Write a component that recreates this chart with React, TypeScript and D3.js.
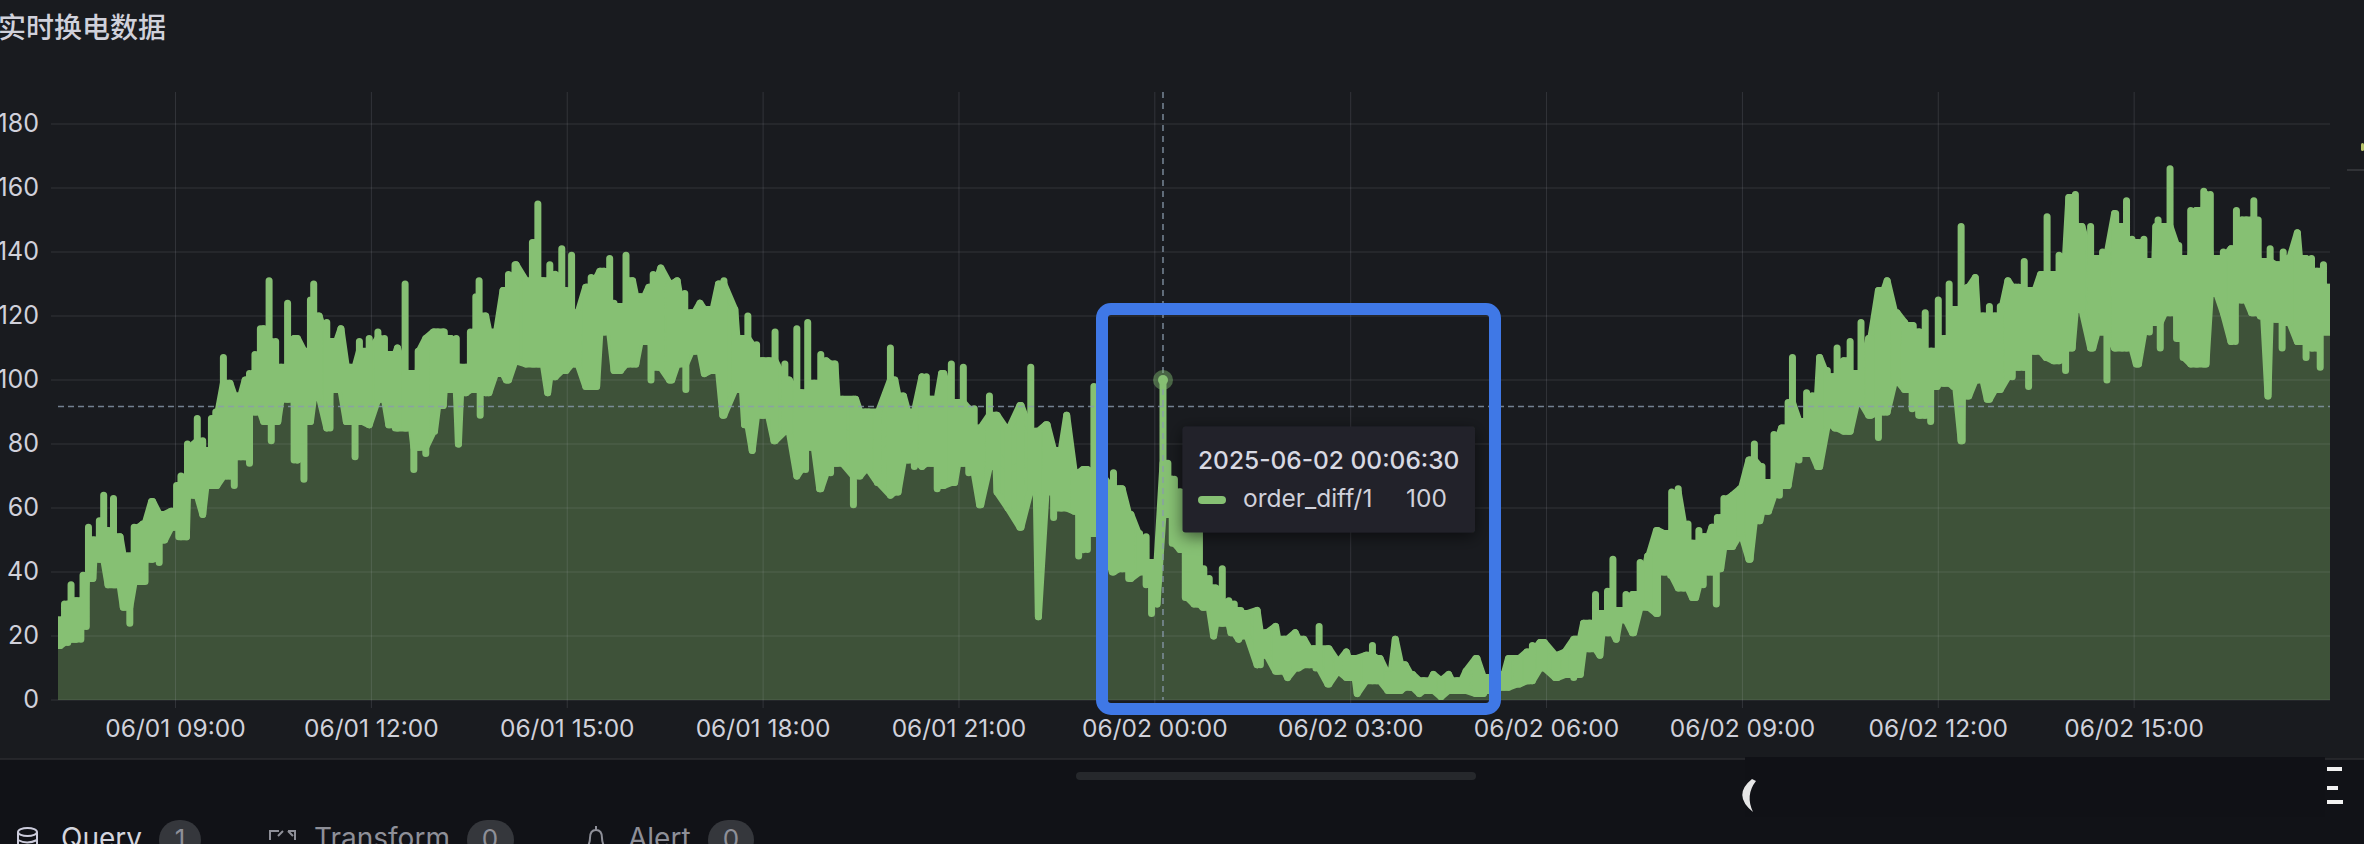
import * as d3 from "d3";

const WIDTH = 2364;
const HEIGHT = 844;
const PLOT = { left: 58, right: 2330, top: 92, bottom: 700 };

const START = new Date(2025, 5, 1, 7, 12);
const END_MINUTE = 2088;
const TITLE = "实时换电数据";
const Y_TICKS = [0, 20, 40, 60, 80, 100, 120, 140, 160, 180];
const THRESHOLD = 91.7;
const HOVER_MINUTE = 1015.5;
const HOVER_VALUE = 100;
const TOOLTIP_TIME = "2025-06-02 00:06:30";
const TOOLTIP_SERIES = "order_diff/1";
const TOOLTIP_VALUE = "100";
const CORE_WINDOW = 6; // minutes either side when working out the solid band

// [minutes after 06/01 07:12, value]: upper and lower tips
const highs1 = [[2,25],[6,30],[12,36],[17,31],[23,39],[28,54],[33,50],[38,56],[42,64],[46,53],[51,63],[57,51],[64,45],[70,54],[78,55],[87,62],[96,58],[104,59],[109,67],[113,70],[119,80],[128,88],[133,81],[136,78],[141,88],[145,90],[152,107],[158,99],[165,95],[172,100],[176,102],[181,108],[186,116],[194,131],[200,112],[205,104],[211,124],[220,113],[227,109],[232,125],[235,130],[240,120],[247,118],[253,112],[260,116],[268,104],[277,112],[280,109],[286,113],[294,115],[300,113],[304,108],[312,110],[319,130],[325,102],[331,109],[338,113],[346,115]];
const lows1 = [[0,17],[2,17],[9,18],[15,19],[21,19],[26,23],[32,38],[39,44],[46,36],[53,36],[60,29],[66,24],[74,37],[80,37],[86,44],[93,43],[98,50],[106,54],[111,51],[118,51],[125,64],[133,58],[140,67],[146,67],[155,70],[162,67],[168,76],[176,74],[182,90],[189,87],[196,81],[202,87],[211,94],[217,75],[226,69],[230,87],[240,95],[250,85],[256,97],[265,87],[273,76],[279,87],[286,86],[296,94],[305,86],[310,85],[320,85],[327,72],[332,79],[338,77],[345,84]];
const highs2 = [[349,115],[355,115],[361,113],[366,113],[370,104],[375,104],[379,115],[384,126],[387,131],[393,120],[402,115],[409,128],[414,133],[420,136],[430,131],[436,143],[441,155],[446,131],[452,136],[457,133],[463,141],[467,128],[472,139],[478,121],[485,129],[490,132],[498,134],[507,138],[511,124],[517,123],[522,139],[528,131],[535,126],[543,129],[547,133],[554,135],[562,130],[569,131],[576,127],[582,121],[590,124],[600,122],[607,130],[612,131],[622,122],[629,113],[634,120],[642,111],[648,106],[653,106],[659,115],[668,105],[672,100],[679,116],[683,96],[689,118],[695,99]];
const lows2 = [[354,92],[361,97],[368,80],[375,96],[382,97],[388,89],[396,96],[403,102],[412,100],[421,106],[430,105],[438,105],[443,105],[450,96],[457,101],[464,103],[475,105],[486,98],[495,98],[502,115],[516,103],[524,105],[531,105],[539,112],[545,100],[552,104],[564,100],[571,105],[577,97],[585,109],[594,102],[602,103],[611,89],[624,97],[631,86],[638,78],[647,89],[658,81],[671,84],[679,70],[687,72],[692,79]];
const highs3 = [[701,108],[706,106],[714,105],[721,94],[733,94],[742,90],[754,90],[765,110],[769,100],[777,95],[787,90],[798,101],[804,94],[812,102],[821,105],[827,93],[832,104],[842,91],[848,85],[856,95],[862,89],[873,84],[884,92],[894,104],[899,84],[908,86],[917,78],[927,89],[934,71],[942,72],[952,98],[957,70],[970,71],[975,66],[986,58],[994,52],[1000,51],[1006,43],[HOVER_MINUTE,HOVER_VALUE],[1020,74],[1026,69],[1032,65],[1038,62],[1047,58]];
const lows3 = [[700,66],[710,71],[716,74],[731,61],[737,70],[745,72],[753,68],[765,64],[772,65],[781,75],[787,73],[794,73],[802,74],[808,66],[814,67],[824,68],[831,74],[837,71],[847,61],[856,73],[863,65],[873,60],[885,54],[894,66],[901,26],[909,65],[915,57],[922,60],[934,59],[938,45],[946,47],[951,52],[960,50],[969,40],[978,41],[984,38],[994,40],[1000,36],[1005,27],[1010,30],[1018,58],[1024,49],[1031,47],[1036,32],[1044,30]];
const highs4 = [[1049,55],[1053,41],[1058,38],[1064,35],[1070,41],[1076,31],[1081,30],[1087,28],[1093,27],[1102,28],[1110,21],[1119,23],[1127,19],[1137,21],[1145,19],[1154,16],[1159,23],[1168,16],[1177,12],[1184,15],[1192,13],[1202,14],[1208,17],[1215,13],[1222,8],[1229,19],[1238,11],[1245,8],[1255,6],[1264,8],[1271,6],[1278,8],[1286,6],[1294,9],[1304,13],[1312,7],[1320,7],[1326,8],[1333,13],[1343,13],[1350,15],[1355,17],[1366,18],[1376,14],[1385,15],[1395,19]];
const lows4 = [[1052,29],[1062,20],[1070,24],[1078,21],[1085,19],[1092,20],[1105,11],[1111,14],[1121,9],[1130,7],[1140,10],[1150,11],[1156,10],[1167,5],[1176,9],[1186,7],[1194,2],[1203,6],[1212,6],[1225,3],[1234,3],[1243,4],[1251,2],[1261,3],[1271,1],[1281,3],[1290,3],[1303,2],[1310,2],[1318,3],[1329,4],[1341,5],[1352,6],[1362,10],[1378,7],[1385,8],[1393,7]];
const highs5 = [[1402,24],[1408,24],[1413,33],[1419,27],[1424,34],[1429,44],[1435,28],[1441,33],[1448,33],[1454,43],[1462,45],[1469,53],[1477,52],[1483,65],[1489,66],[1498,55],[1502,49],[1508,53],[1513,51],[1520,54],[1525,57],[1531,63],[1539,64],[1547,66],[1555,75],[1559,80],[1566,73],[1571,68],[1577,83],[1584,85],[1590,93],[1594,107],[1601,87],[1607,96],[1612,95],[1619,107],[1626,103],[1630,101],[1635,110],[1641,106],[1647,112],[1653,102],[1657,118],[1666,113],[1674,128],[1681,131],[1688,121],[1697,118],[1705,117],[1711,115],[1716,121],[1722,109],[1728,125],[1733,113],[1738,130],[1744,122]];
const lows5 = [[1399,8],[1407,16],[1417,14],[1425,21],[1432,19],[1440,25],[1447,21],[1461,29],[1470,27],[1476,40],[1482,39],[1494,35],[1505,32],[1512,36],[1517,40],[1524,30],[1528,41],[1535,48],[1546,52],[1554,44],[1564,56],[1572,59],[1582,64],[1587,67],[1600,75],[1606,77],[1617,73],[1626,86],[1633,85],[1645,84],[1655,93],[1664,89],[1673,82],[1678,90],[1690,100],[1699,97],[1704,91],[1710,89],[1721,87],[1727,98],[1734,99],[1742,98]];
const highs6 = [[1749,148],[1755,129],[1762,132],[1769,120],[1775,123],[1780,120],[1785,123],[1792,131],[1799,129],[1807,137],[1813,128],[1822,133],[1828,151],[1834,133],[1839,139],[1848,157],[1854,158],[1860,148],[1868,148],[1874,138],[1879,140],[1883,139],[1891,152],[1897,148],[1901,156],[1906,144],[1912,143],[1917,144],[1921,137],[1928,148],[1930,150],[1936,148],[1941,166],[1949,142],[1954,138],[1960,153],[1966,153],[1972,159],[1978,158],[1984,138],[1990,140],[1997,141],[2002,153],[2011,150],[2018,156],[2022,150],[2027,137],[2033,141],[2040,136],[2045,140],[2050,138],[2058,146],[2065,138],[2071,138],[2076,134],[2082,136],[2086,129]];
const lows6 = [[1750,81],[1756,95],[1764,100],[1773,94],[1783,97],[1796,101],[1802,104],[1811,98],[1817,109],[1827,107],[1835,106],[1845,103],[1851,110],[1858,122],[1870,110],[1877,115],[1883,100],[1890,110],[1901,110],[1910,105],[1922,115],[1927,118],[1932,110],[1941,121],[1947,113],[1953,107],[1965,105],[1974,105],[1982,127],[1990,121],[2001,112],[2007,125],[2016,121],[2024,120],[2031,95],[2038,119],[2044,110],[2051,118],[2060,112],[2066,107],[2072,110],[2079,104],[2084,115],[2088,115]];

const highs = [...highs1, ...highs2, ...highs3, ...highs4, ...highs5, ...highs6];
const lows = [...lows1, ...lows2, ...lows3, ...lows4, ...lows5, ...lows6];

// solid part of the trace: the lowest high and highest low close to a minute
const nearby = (tips: number[][], m: number) => {
  const near = tips.filter((d) => Math.abs(d[0] - m) <= CORE_WINDOW);
  return near.length ? near : [tips[d3.bisector((d: number[]) => d[0]).center(tips, m)]];
};
const coreTop = (m: number) => d3.min(nearby(highs, m), (d) => d[1]) as number;
const coreBottom = (m: number) => d3.max(nearby(lows, m), (d) => d[1]) as number;
const minutes = [...highs, ...lows].map((d) => d[0]).sort((a, b) => a - b);
const core = minutes.map((m) => ({ m, top: coreTop(m), bottom: coreBottom(m) }));

const toTime = (m: number) => new Date(START.getTime() + m * 60000);

const xScale = d3
  .scaleTime()
  .domain([START, toTime(END_MINUTE)])
  .range([PLOT.left, PLOT.right]);
const yScale = d3.scaleLinear().domain([0, 180]).range([PLOT.bottom, 124]);

const xTicks = d3.timeHour.range(new Date(2025, 5, 1, 9), new Date(2025, 5, 2, 16), 3);
const formatTick = d3.timeFormat("%m/%d %H:%M");

const BG = "#191b1f";
const PAGE = "#111217";
const GRID = "rgba(204,204,220,0.14)";
const TEXT = "#d0d1db";
const GREEN = "#86c073";
const FONT = "Inter, 'Noto Sans', sans-serif";
const CJK = "'Noto Sans CJK SC', sans-serif";

export default function App() {
  const x = (m: number) => xScale(toTime(m));
  const fill = d3
    .area<{ m: number; top: number; bottom: number }>()
    .x((d) => x(d.m))
    .y0(PLOT.bottom)
    .y1((d) => yScale(Math.max(d.top, d.bottom)));
  const band = d3
    .area<{ m: number; top: number; bottom: number }>()
    .x((d) => x(d.m))
    .y0((d) => yScale(d.bottom))
    .y1((d) => yScale(d.top));
  const edge = d3.line<number[]>().x((d) => x(d[0])).y((d) => yScale(d[1]));
  const hoverX = x(HOVER_MINUTE);
  const hoverY = yScale(HOVER_VALUE);
  const thresholdY = yScale(THRESHOLD);
  const spikes = [
    ...highs.map((d) => edge([[d[0], coreBottom(d[0])], d])),
    ...lows.map((d) => edge([[d[0], coreTop(d[0])], d])),
  ].join("");
  const bandStroke = edge(core.map((d) => [d.m, (d.top + d.bottom) / 2]));

  return (
    <svg
      width={WIDTH}
      height={HEIGHT}
      style={{ position: "absolute", left: 0, top: 0, display: "block" }}
    >
      <defs>
        <clipPath id="plot">
          <rect x={PLOT.left} y={PLOT.top} width={PLOT.right - PLOT.left} height={PLOT.bottom - PLOT.top} />
        </clipPath>
        <filter id="shadow" x="-20%" y="-20%" width="140%" height="150%">
          <feDropShadow dx="0" dy="4" stdDeviation="8" floodColor="#000" floodOpacity="0.55" />
        </filter>
      </defs>

      <rect width={WIDTH} height={HEIGHT} fill={PAGE} />
      <rect width={WIDTH} height={759} fill={BG} />
      <line x1={0} x2={WIDTH} y1={759} y2={759} stroke="#2b2d31" strokeWidth={1.5} />

      <text x={-2} y={38} fontFamily={CJK} fontSize={28} fontWeight={500} fill={TEXT}>
        {TITLE}
      </text>

      {/* area first, grid over it, trace on top */}
      <path d={fill(core) ?? ""} fill="#3e5239" clipPath="url(#plot)" />

      {Y_TICKS.map((t) => (
        <g key={t}>
          <line x1={51} x2={PLOT.right} y1={yScale(t)} y2={yScale(t)} stroke={GRID} strokeWidth={1} />
          <text
            x={39}
            y={yScale(t) - 1}
            dy="0.36em"
            textAnchor="end"
            fontFamily={FONT}
            fontSize={25}
            fill={TEXT}
          >
            {t}
          </text>
        </g>
      ))}
      {xTicks.map((t) => (
        <g key={t.getTime()}>
          <line x1={xScale(t)} x2={xScale(t)} y1={PLOT.top} y2={708} stroke={GRID} strokeWidth={1} />
          <text
            x={xScale(t)}
            y={728}
            dy="0.36em"
            textAnchor="middle"
            fontFamily={FONT}
            fontSize={24.5}
            fill={TEXT}
          >
            {formatTick(t)}
          </text>
        </g>
      ))}

      <g clipPath="url(#plot)" stroke={GREEN} strokeWidth={7} strokeLinejoin="round" strokeLinecap="round" fill="none">
        <path d={band(core) ?? ""} fill={GREEN} />
        <path d={bandStroke ?? ""} />
        <path d={spikes} />
      </g>

      {/* crosshair */}
      <line
        x1={PLOT.left}
        x2={PLOT.right}
        y1={thresholdY}
        y2={thresholdY}
        stroke="#8a9aac"
        strokeOpacity={0.8}
        strokeWidth={1.6}
        strokeDasharray="6 4"
      />
      <line
        x1={hoverX}
        x2={hoverX}
        y1={PLOT.top}
        y2={PLOT.bottom}
        stroke="#8a9aac"
        strokeOpacity={0.8}
        strokeWidth={1.6}
        strokeDasharray="6 5"
      />
      <circle cx={hoverX} cy={hoverY} r={10} fill={GREEN} fillOpacity={0.45} />
      <circle cx={hoverX} cy={hoverY} r={5} fill={GREEN} />

      {/* tooltip */}
      <rect x={1182.5} y={426.5} width={292.5} height={106} rx={3} fill="#232429" filter="url(#shadow)" />
      <text x={1198} y={460} dy="0.36em" fontFamily={FONT} fontSize={24.5} fontWeight={500} fill="#d8d9e2">
        {TOOLTIP_TIME}
      </text>
      <rect x={1198} y={496} width={28} height={8} rx={4} fill={GREEN} />
      <text x={1243} y={498} dy="0.36em" fontFamily={FONT} fontSize={24.5} fill="#d0d1db">
        {TOOLTIP_SERIES}
      </text>
      <text x={1406} y={498} dy="0.36em" fontFamily={FONT} fontSize={24.5} fill="#d0d1db">
        {TOOLTIP_VALUE}
      </text>

      {/* blue annotation frame */}
      <rect x={1102} y={309} width={393} height={400} rx={9} fill="none" stroke="#3f78e6" strokeWidth={12} />

      {/* right edge scraps */}
      <line x1={2347} x2={2364} y1={170} y2={170} stroke="#3a3c41" strokeWidth={1.5} />
      <rect x={2361} y={143} width={3} height={8} rx={1.5} fill="#b9c46a" />

      {/* scrollbar */}
      <rect x={1076} y={772} width={400} height={8} rx={4} fill="#26282c" />

      {/* redaction over the footer */}
      <rect x={1745} y={757} width={580} height={60} fill="#101116" />
      <path d="M1752 779 Q1732 795 1753 812 Q1745 795 1756 781Z" fill="#e6e6e6" />
      <rect x={2327} y={767} width={15} height={4} fill="#f2f2f2" />
      <rect x={2327} y={786} width={11} height={4} fill="#f2f2f2" />
      <rect x={2327} y={800} width={16} height={4} fill="#f2f2f2" />

      {/* tab row, cut by the bottom edge */}
      <g fontFamily={FONT} fontSize={28}>
        <g fill="none" stroke="#ccccdc" strokeWidth={2}>
          <ellipse cx={27.5} cy={832} rx={9.5} ry={4} />
          <path d="M18 832 V848 M37 832 V848 M18 840 Q27 845 37 840" />
        </g>
        <text x={61} y={848} fill="#d4d5de">Query</text>
        <rect x={159} y={820} width={42} height={40} rx={20} fill="#35373c" />
        <text x={180} y={848} fontSize={26} textAnchor="middle" fill="#8e8f98">1</text>

        <g fill="none" stroke="#8e8f98" strokeWidth={2}>
          <path d="M270 840 V831 H279 M283 831 L278 836 M295 840 V831 H288 M288 831 L293 836" />
        </g>
        <text x={314} y={848} fill="#8e8f98">Transform</text>
        <rect x={467} y={820} width={47} height={40} rx={20} fill="#35373c" />
        <text x={490} y={848} fontSize={26} textAnchor="middle" fill="#8e8f98">0</text>

        <g fill="none" stroke="#8e8f98" strokeWidth={2}>
          <path d="M596 826 V830 M588 846 Q590 842 590 838 Q590 830 596 830 Q602 830 602 838 Q602 842 604 846 Z" />
        </g>
        <text x={628} y={848} fill="#8e8f98">Alert</text>
        <rect x={708} y={820} width={46} height={40} rx={20} fill="#35373c" />
        <text x={731} y={848} fontSize={26} textAnchor="middle" fill="#8e8f98">0</text>
      </g>
    </svg>
  );
}
